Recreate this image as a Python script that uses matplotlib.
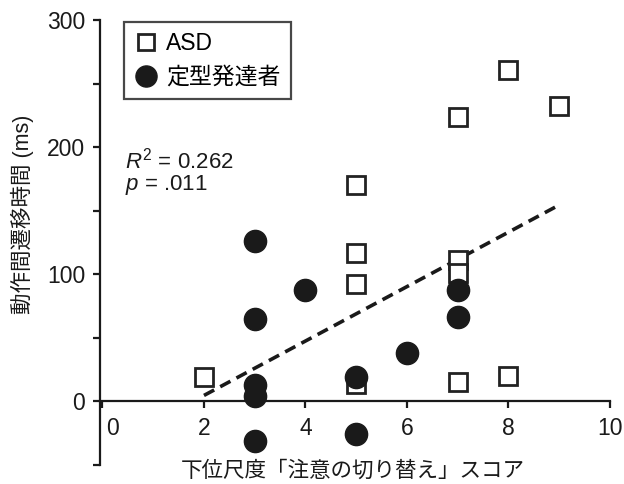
import numpy as np
import matplotlib
matplotlib.use("Agg")
from matplotlib import pyplot as plt
from matplotlib.transforms import ScaledTranslation

plt.rcParams['font.family'] = ['Liberation Sans', 'Noto Sans CJK JP']
plt.rcParams['mathtext.fontset'] = 'custom'
plt.rcParams['mathtext.rm'] = 'Liberation Sans'
plt.rcParams['mathtext.it'] = 'Liberation Sans:italic'

# ASD group
asd_x = [2, 5, 5, 5, 5, 7, 7, 7, 7, 8, 8, 9]
asd_y = [19, 170, 117, 92, 14, 224, 111, 101, 15, 261, 20, 232]

# typically developing group
td_x = [3, 3, 3, 3, 3, 4, 5, 5, 6, 7, 7]
td_y = [126, 65, 13, 4, -31, 88, 19, -26, 38, 88, 66]

# regression line
fit_slope = 21.4
fit_intercept = -38.1
fit_range = [2, 9]

r2_text = r"$\it{R}^2$ = 0.262"
p_text = r"$\it{p}$ = .011"

xticks = [0, 2, 4, 6, 8, 10]
yticks = [0, 100, 200, 300]
yminor = [-50, 50, 150, 250]

ink = '#1a1a1a'

fig = plt.figure(figsize=(6.24, 4.84), dpi=100)
ax = fig.add_axes([0.161, 0.0393, 0.8165, 0.9194])

ax.plot(asd_x, asd_y, linestyle='none', marker='s', markersize=12.5,
        markerfacecolor='white', markeredgecolor='#222222', markeredgewidth=2,
        label='ASD', zorder=3)
ax.plot(td_x, td_y, linestyle='none', marker='o', markersize=16,
        markerfacecolor=ink, markeredgecolor=ink,
        label='定型発達者', zorder=4)

fx = np.array(fit_range, dtype=float)
ax.plot(fx, fit_slope * fx + fit_intercept, color=ink, lw=2.6,
        dashes=(3.2, 1.9), zorder=2)

ax.set_xlim(-0.04, 10)
ax.set_ylim(-50, 300)
ax.spines['top'].set_visible(False)
ax.spines['right'].set_visible(False)
ax.spines['bottom'].set_position(('data', 0))
for s in ['left', 'bottom']:
    ax.spines[s].set_linewidth(1.6)
    ax.spines[s].set_color(ink)

ax.set_xticks(xticks)
ax.set_yticks(yticks)
ax.set_yticks(yminor, minor=True)
ax.tick_params(axis='both', which='both', direction='out', length=5,
               width=1.6, color=ink, labelsize=16.5, labelcolor=ink)
ax.tick_params(axis='x', pad=6)
ax.tick_params(axis='y', pad=6)

# the "0" label sits a little to the right of the spine
lbl0 = ax.get_xticklabels()[0]
lbl0.set_transform(lbl0.get_transform() + ScaledTranslation(0.105, 0, fig.dpi_scale_trans))

ax.set_xlabel('下位尺度「注意の切り替え」スコア', fontsize=15.5, color=ink, va='center')
ax.xaxis.set_label_coords(0.496, -0.015)
ax.set_ylabel('動作間遷移時間 (ms)', fontsize=15.5, color=ink, va='center')
ax.yaxis.set_label_coords(-0.154, 0.564)

ax.text(0.048, 0.685, r2_text, transform=ax.transAxes, fontsize=16,
        va='center', ha='left', color=ink)
ax.text(0.048, 0.629, p_text, transform=ax.transAxes, fontsize=16,
        va='center', ha='left', color=ink)

leg = ax.legend(loc='upper left', bbox_to_anchor=(0.046, 0.9955),
                borderaxespad=0, fontsize=16.5, frameon=True, fancybox=False,
                handletextpad=0.4, borderpad=0.45, labelspacing=0.45,
                handlelength=1.0, markerscale=0.95)
leg.get_frame().set_edgecolor(ink)
leg.get_frame().set_linewidth(1.6)

fig.savefig('out.png', dpi=100)
